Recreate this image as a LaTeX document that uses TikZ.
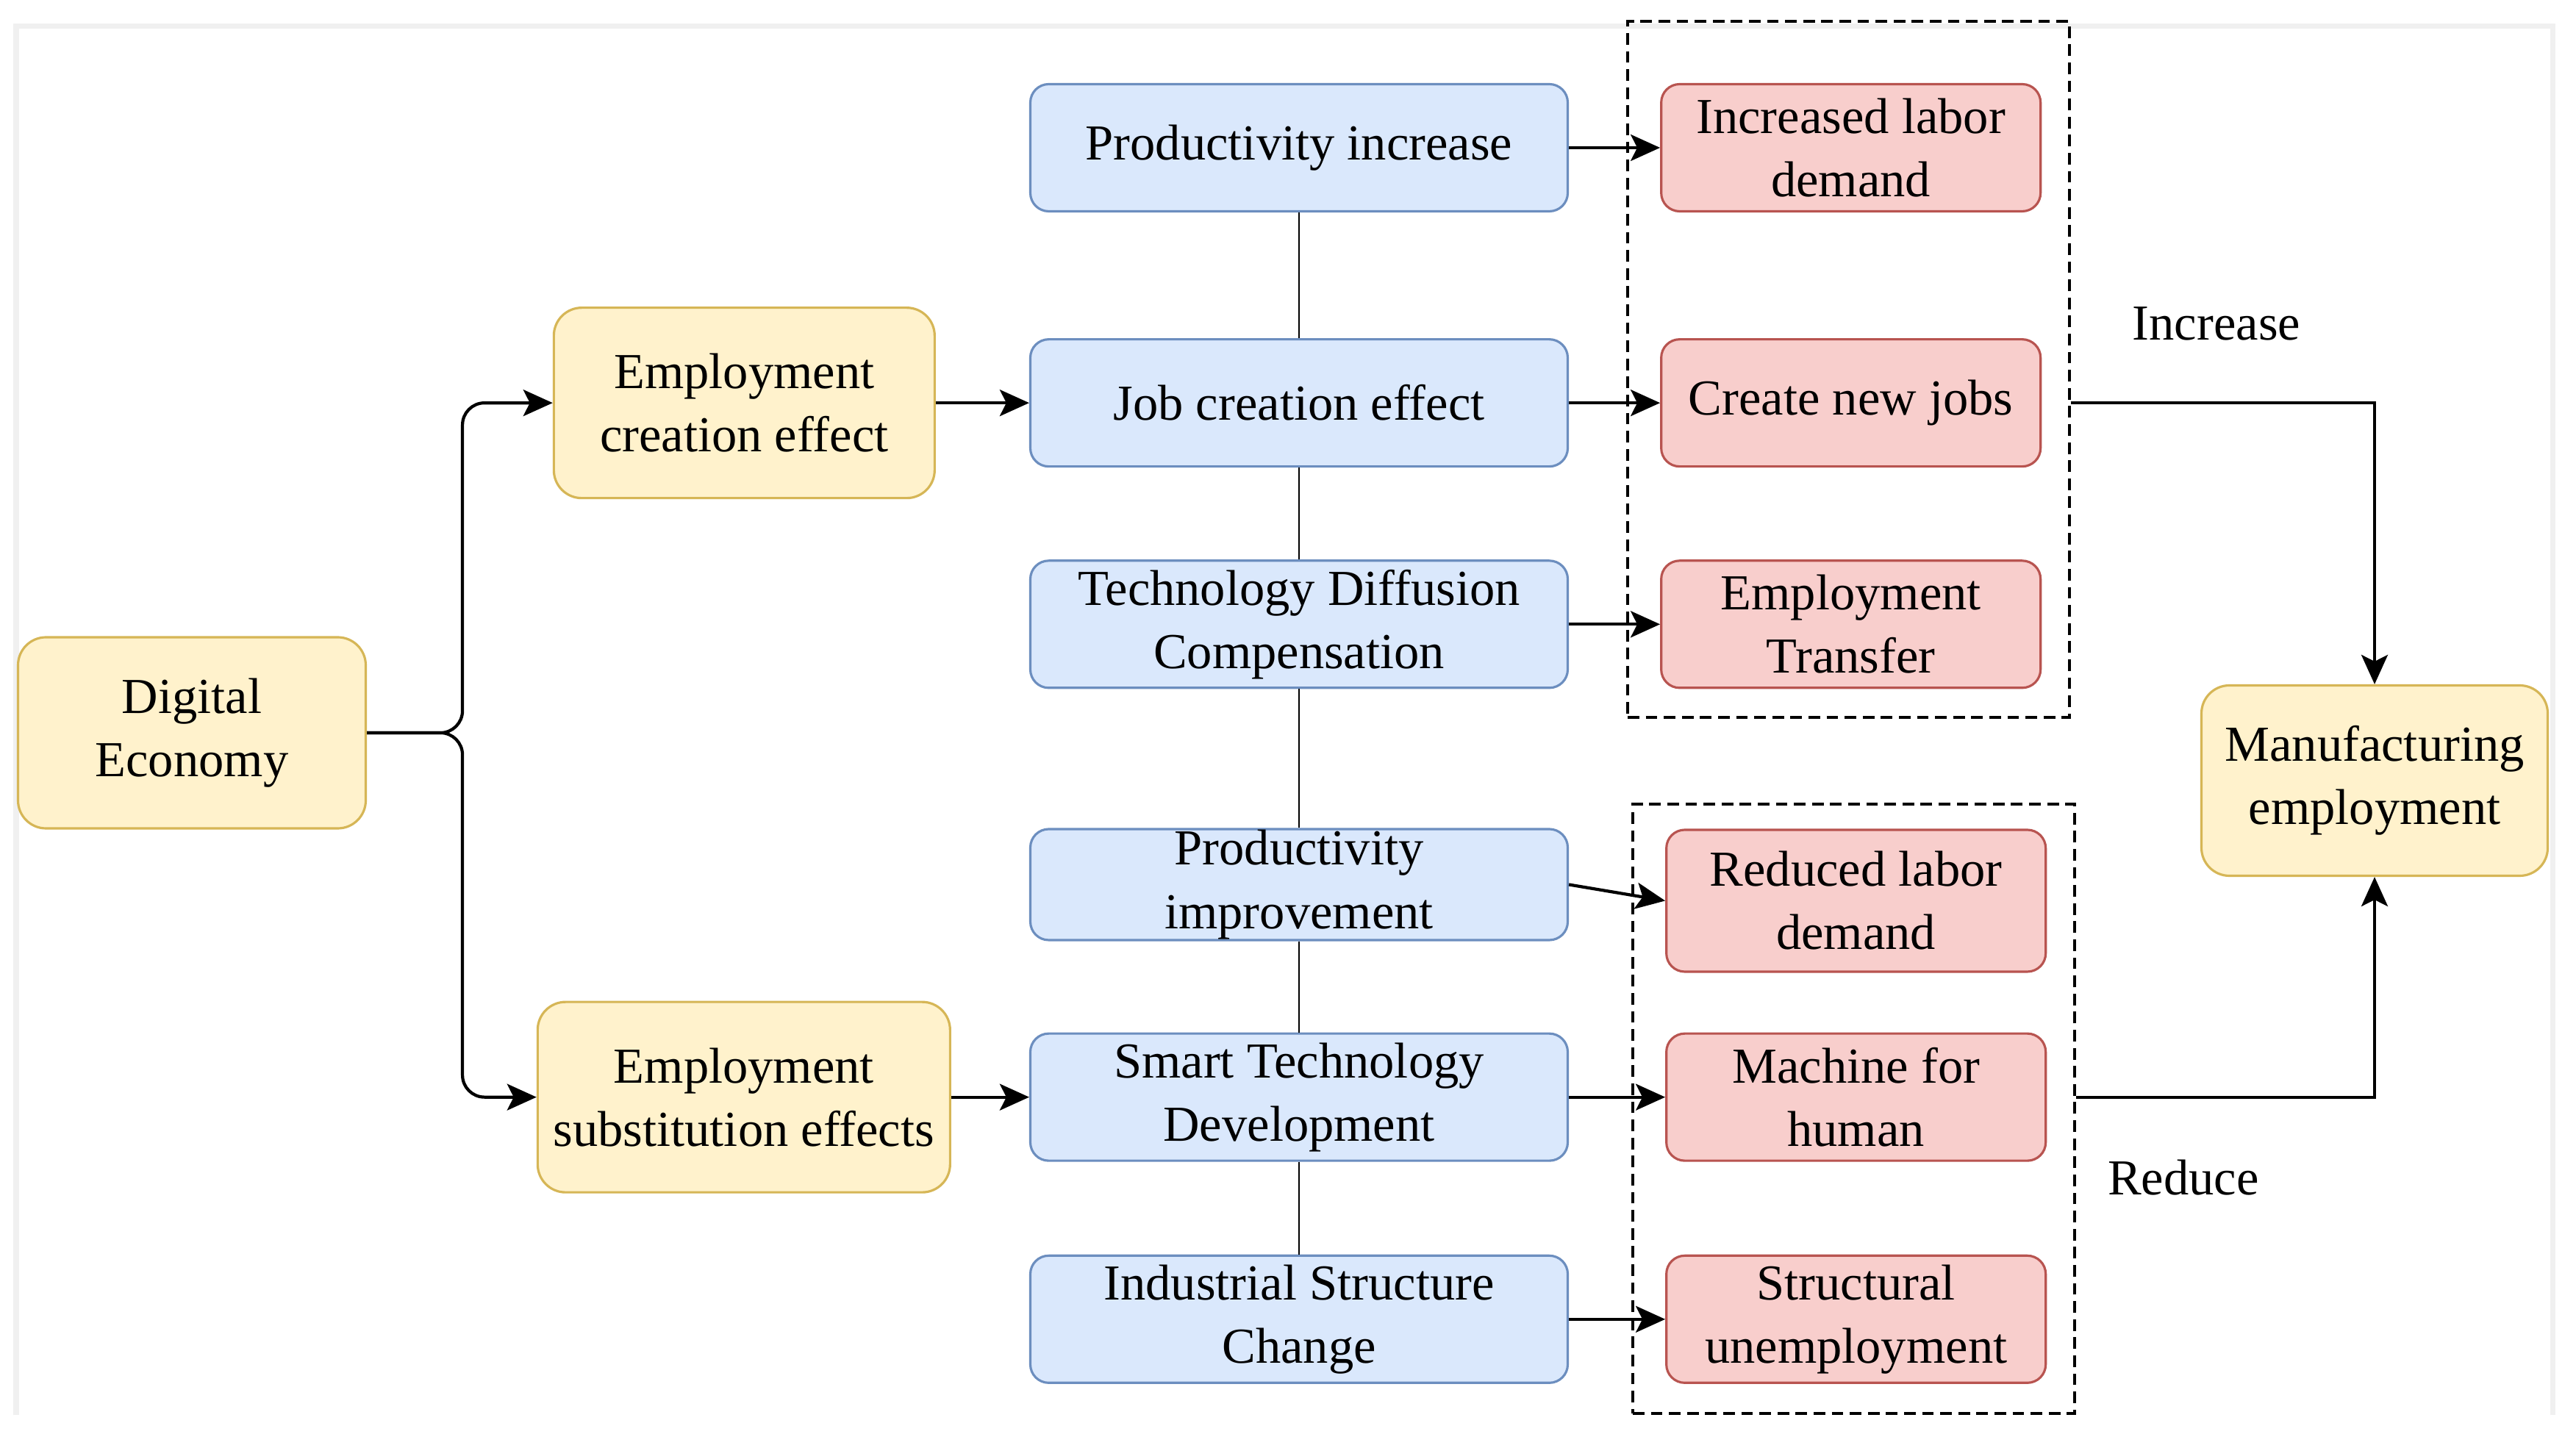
\documentclass[tikz,border=0pt]{standalone}
\usepackage{fontspec}
\setmainfont{Liberation Serif}
\usepackage{xcolor}
\usetikzlibrary{positioning,arrows.meta}

\definecolor{ylwfill}{HTML}{FFF2CC}
\definecolor{ylwline}{HTML}{D6B656}
\definecolor{bluefill}{HTML}{DAE8FC}
\definecolor{blueline}{HTML}{6C8EBF}
\definecolor{redfill}{HTML}{F8CECC}
\definecolor{redline}{HTML}{B85450}

\begin{document}
\begin{tikzpicture}[
  font=\fontsize{19.5}{24.5}\selectfont,
  yellowbox/.style={rectangle, draw=ylwline, line width=0.9pt, rounded corners=0.38cm, fill=ylwfill, align=center, minimum width=4.72cm, minimum height=2.59cm, inner sep=2pt},
  bluebox/.style={rectangle, draw=blueline, line width=0.9pt, rounded corners=0.25cm, fill=bluefill, align=center, minimum width=7.31cm, minimum height=1.73cm, inner sep=1pt},
  redbox/.style={rectangle, draw=redline, line width=0.9pt, rounded corners=0.25cm, fill=redfill, align=center, minimum width=5.16cm, minimum height=1.73cm, inner sep=1pt},
  groupbox/.style={rectangle, draw, line width=0.9pt, dash pattern=on 4.5pt off 2.5pt, minimum width=6.01cm},
  arrow/.style={-{Stealth[length=4mm,width=3.6mm,inset=0.9mm]}, line width=1.2pt},
  link/.style={line width=0.8pt}
]
  \useasboundingbox (0,0) rectangle (35.04,-19.70);
  \fill[white] (0,0) rectangle (35.04,-19.70);
  \draw[gray!12, line width=2pt] (0.22,-19.25) |- (34.72,-0.36) -- (34.72,-19.25);

  % Blue column
  \node[bluebox] (pinc) at (17.67,-2.01) {Productivity increase};
  \node[bluebox, below=1.71cm of pinc] (jce) {Job creation effect};
  \node[bluebox, below=1.25cm of jce] (tdc) {Technology Diffusion\\Compensation};
  \node[bluebox, minimum height=1.51cm, inner ysep=0pt, below=1.89cm of tdc] (pimp) {Productivity\\improvement};
  \node[bluebox, below=1.24cm of pimp] (std) {Smart Technology\\Development};
  \node[bluebox, below=1.26cm of std] (isc) {Industrial Structure\\Change};

  % Yellow boxes
  \node[yellowbox, minimum width=4.73cm, minimum height=2.60cm] (de) at (2.61,-9.97) {Digital\\Economy};
  \node[yellowbox, minimum width=5.18cm, left=1.27cm of jce] (ece) {Employment\\creation effect};
  \node[yellowbox, minimum width=5.61cm, left=1.06cm of std] (ese) {Employment\\substitution effects};
  \node[yellowbox, minimum width=4.71cm] (mfg) at (32.30,-10.62) {Manufacturing\\employment};

  % Dashed groups
  \node[groupbox, minimum height=9.47cm] (grpup) at (25.145,-5.025) {};
  \node[groupbox, minimum height=8.29cm] (grpdn) at (25.215,-15.085) {};

  % Red boxes
  \node[redbox, right=1.24cm of pinc] (ild) {Increased labor\\demand};
  \node[redbox, right=1.24cm of jce] (cnj) {Create new jobs};
  \node[redbox, right=1.24cm of tdc] (etr) {Employment\\Transfer};
  \node[redbox, minimum height=1.93cm, right=1.31cm of pimp, yshift=-0.22cm] (rld) {Reduced labor\\demand};
  \node[redbox, right=1.31cm of std] (mfh) {Machine for\\human};
  \node[redbox, right=1.31cm of isc] (sun) {Structural\\unemployment};

  % Labels
  \node (lblinc) at (30.15,-4.40) {Increase};
  \node (lblred) at (29.70,-16.02) {Reduce};

  % Connectors
  \draw[arrow, rounded corners=0.3cm] (de.east) -- ++(1.3,0) |- (ece.west);
  \draw[arrow, rounded corners=0.3cm] (de.east) -- ++(1.3,0) |- (ese.west);
  \draw[arrow] (ece) -- (jce);
  \draw[arrow] (ese) -- (std);
  \draw[link] (pinc) -- (jce) -- (tdc) -- (pimp) -- (std) -- (isc);
  \draw[arrow] (pinc) -- (ild);
  \draw[arrow] (jce) -- (cnj);
  \draw[arrow] (tdc) -- (etr);
  \draw[arrow] (pimp.east) -- (rld.west);
  \draw[arrow] (std) -- (mfh);
  \draw[arrow] (isc) -- (sun);
  \draw[arrow] (grpup.east |- cnj) -| (mfg.north);
  \draw[arrow] (grpdn.east |- mfh) -| (mfg.south);
\end{tikzpicture}
\end{document}
